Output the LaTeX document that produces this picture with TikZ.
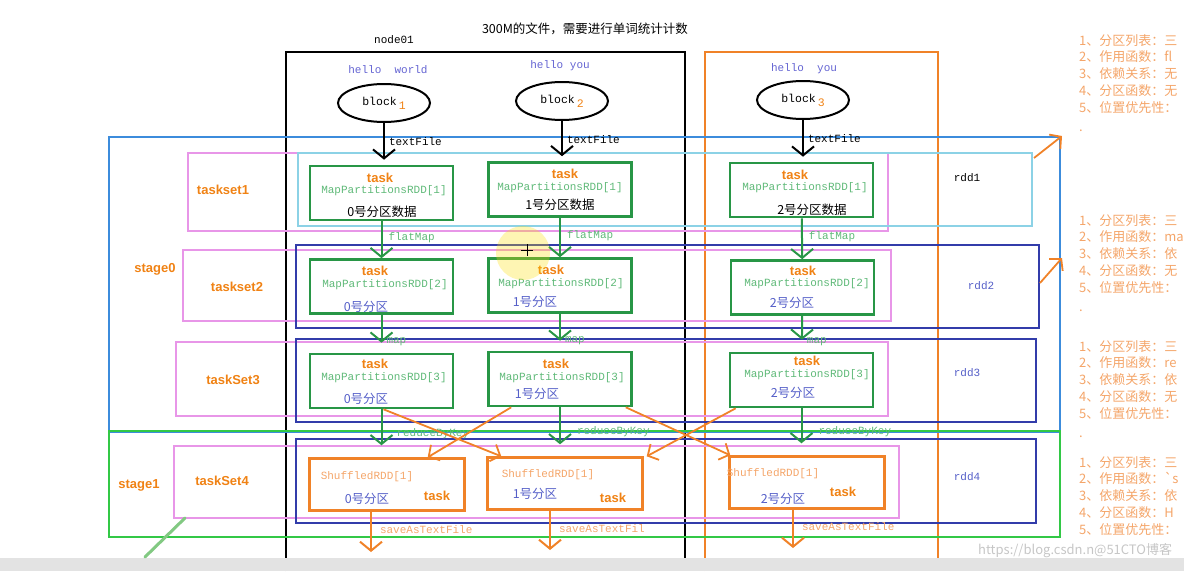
\documentclass[tikz,border=0pt]{standalone}
\usepackage{fontspec}
\usepackage{tikz}
\usetikzlibrary{arrows.meta,shapes.geometric}
\setmainfont{Liberation Serif}
\newfontfamily\cjk{Noto Sans CJK SC}
\newfontfamily\mono{Liberation Mono}
\newfontfamily\sansb{Liberation Sans}

\definecolor{boxgreen}{RGB}{40,150,70}
\definecolor{lightgreen}{RGB}{95,185,120}
\definecolor{taskorange}{RGB}{240,130,20}
\definecolor{paleorange}{RGB}{244,165,105}
\definecolor{partblue}{RGB}{85,95,200}
\definecolor{hellblue}{RGB}{100,100,210}
\definecolor{rddblue}{RGB}{50,60,170}
\definecolor{rddcyan}{RGB}{140,210,230}
\definecolor{setpink}{RGB}{232,150,232}
\definecolor{stageblue}{RGB}{60,140,220}
\definecolor{stagegreen}{RGB}{50,200,70}
\definecolor{orangeline}{RGB}{240,130,40}

\begin{document}
\begin{tikzpicture}[x=1pt,y=-1pt,
  tbox/.style={draw=boxgreen,line width=2.6pt,minimum width=143pt,minimum height=54pt,inner sep=0pt},
  sbox/.style={draw=orangeline,line width=2.4pt,minimum width=155pt,minimum height=52pt,inner sep=0pt},
  blk/.style={draw,ellipse,line width=2pt,minimum width=92pt,minimum height=38pt,inner sep=0pt,font=\mono\fontsize{11.5}{13}\selectfont},
  tsk/.style={text=taskorange,font=\sansb\bfseries\fontsize{13}{15}\selectfont,inner sep=0pt},
  mpr/.style={text=lightgreen,font=\mono\fontsize{11}{13}\selectfont,inner sep=0pt},
  part/.style={text=partblue,font=\cjk\fontsize{12.5}{14}\selectfont,inner sep=0pt},
  lbl/.style={font=\mono\fontsize{11}{13}\selectfont,inner sep=0pt,anchor=west},
  flow/.style={line width=2pt,-{Straight Barb[length=9pt,width=22pt,line width=2pt]}},
  cross/.style={orangeline,line width=1.8pt,-{Straight Barb[length=8pt,width=18pt,line width=1.8pt]}},
  sets/.style={draw=setpink,line width=1.5pt},
  rdd/.style={draw=rddblue,line width=2pt},
  notes/.style={text=paleorange,font=\cjk\fontsize{13}{16.8}\selectfont,align=left,anchor=north west,inner sep=0pt}
]
\useasboundingbox (0,0) rectangle (1184,571);
\clip (0,0) rectangle (1184,571);

% heading
\node[font=\cjk\fontsize{12.5}{14}\selectfont] (head) at (585,29) {300M的文件，需要进行单词统计计数};
\node[font=\mono\fontsize{11}{13}\selectfont] (n01) at (394,40) {node01};

% machines
\draw[line width=2.4pt] (286,571) -- (286,52) -- (685,52) -- (685,571);
\draw[orangeline,line width=2.2pt] (705,571) -- (705,52) -- (938,52) -- (938,571);

% stages
\draw[stageblue,line width=1.8pt] (109,137) rectangle (1060,432);
\draw[stagegreen,line width=2.4pt] (109,431) rectangle (1060,537);
\node[tsk] (st0) at (155,269) {stage0};
\node[tsk] (st1) at (139,485) {stage1};

% tasksets
\draw[sets] (188,153) rectangle (888,231);
\draw[sets] (183,250) rectangle (891,321);
\draw[sets] (176,342) rectangle (888,416);
\draw[sets] (174,446) rectangle (899,518);
\node[tsk] (ts1) at (223,190) {taskset1};
\node[tsk] (ts2) at (237,287) {taskset2};
\node[tsk] (ts3) at (233,380) {taskSet3};
\node[tsk] (ts4) at (222,481) {taskSet4};

% rdds
\draw[rddcyan,line width=2pt] (298,153) rectangle (1032,226);
\draw[rdd] (296,245) rectangle (1039,328);
\draw[rdd] (296,339) rectangle (1036,422);
\draw[rdd] (296,439) rectangle (1036,523);
\node[lbl,anchor=center] (rd1) at (967,178) {rdd1};
\node[lbl,anchor=center,text=partblue] (rd2) at (981,286) {rdd2};
\node[lbl,anchor=center,text=partblue] (rd3) at (967,373) {rdd3};
\node[lbl,anchor=center,text=partblue] (rd4) at (967,477) {rdd4};

% blocks
\node[lbl,anchor=center,text=hellblue] (hw1) at (388,70) {hello\ \ world};
\node[lbl,anchor=center,text=hellblue] (hw2) at (560,66) {hello you};
\node[lbl,anchor=center,text=hellblue] (hw3) at (804,69) {hello\ \ you};
\node[blk] (blk1) at (384,103) {block\,\raisebox{-4pt}{\textcolor{taskorange}{1}}};
\node[blk] (blk2) at (562,101) {block\,\raisebox{-4pt}{\textcolor{taskorange}{2}}};
\node[blk] (blk3) at (803,100) {block\,\raisebox{-4pt}{\textcolor{taskorange}{3}}};

% MapPartitionsRDD[1]
\node[tbox] (t11) at (381.5,193) {};
\node[tsk] at (380,178) {task};
\node[mpr] at (384,191) {MapPartitionsRDD[1]};
\node[part,text=black] at (382,212) {0号分区数据};
\node[tbox] (t12) at (560,189.5) {};
\node[tsk] at (565,174) {task};
\node[mpr] at (560,188) {MapPartitionsRDD[1]};
\node[part,text=black] at (560,205) {1号分区数据};
\node[tbox] (t13) at (801.5,190) {};
\node[tsk] at (795,175) {task};
\node[mpr] at (805,188) {MapPartitionsRDD[1]};
\node[part,text=black] at (812,210) {2号分区数据};

% MapPartitionsRDD[2]
\node[tbox] (t21) at (381.5,286.5) {};
\node[tsk] at (375,271) {task};
\node[mpr] at (385,285) {MapPartitionsRDD[2]};
\node[part] at (366,307) {0号分区};
\node[tbox] (t22) at (560,285.5) {};
\node[tsk] at (551,270) {task};
\node[mpr] at (561,284) {MapPartitionsRDD[2]};
\node[part] at (535,302) {1号分区};
\node[tbox] (t23) at (802.5,287.5) {};
\node[tsk] at (803,271) {task};
\node[mpr] at (807,284) {MapPartitionsRDD[2]};
\node[part] at (792,303) {2号分区};

% MapPartitionsRDD[3]
\node[tbox] (t31) at (381.5,381) {};
\node[tsk] at (375,364) {task};
\node[mpr] at (384,378) {MapPartitionsRDD[3]};
\node[part] at (366,399) {0号分区};
\node[tbox] (t32) at (560,379) {};
\node[tsk] at (556,364) {task};
\node[mpr] at (562,378) {MapPartitionsRDD[3]};
\node[part] at (537,394) {1号分区};
\node[tbox] (t33) at (801.5,380) {};
\node[tsk] at (807,361) {task};
\node[mpr] at (807,375) {MapPartitionsRDD[3]};
\node[part] at (793,393) {2号分区};

% ShuffledRDD
\node[sbox] (s1) at (387,484.5) {};
\node[mpr,text=paleorange] at (367,477) {ShuffledRDD[1]};
\node[part] at (367,499) {0号分区};
\node[tsk] at (437,496) {task};
\node[sbox] (s2) at (565,483.5) {};
\node[mpr,text=paleorange] at (548,475) {ShuffledRDD[1]};
\node[part] at (535,494) {1号分区};
\node[tsk] at (613,498) {task};
\node[sbox] (s3) at (807,482.5) {};
\node[mpr,text=paleorange] at (773,474) {ShuffledRDD[1]};
\node[part] at (783,499) {2号分区};
\node[tsk] at (843,492) {task};

% textFile
\draw[flow,shorten >=5pt] (blk1) -- (blk1 |- t11.north) node[lbl,pos=.45,xshift=4pt] {textFile};
\draw[flow,shorten >=5pt] (blk2) -- (blk2 |- t12.north) node[lbl,pos=.45,xshift=4pt] {textFile};
\draw[flow,shorten >=5pt] (blk3) -- (blk3 |- t13.north) node[lbl,pos=.45,xshift=4pt] {textFile};

% flatMap
\draw[flow,boxgreen] (t11) -- (t21) node[lbl,text=lightgreen,pos=.45,xshift=6pt] {flatMap};
\draw[flow,boxgreen] (t12) -- (t22) node[lbl,text=lightgreen,pos=.45,xshift=6pt] {flatMap};
\draw[flow,boxgreen] (t13) -- (t23) node[lbl,text=lightgreen,pos=.45,xshift=6pt] {flatMap};

% map
\draw[flow,boxgreen,shorten >=10pt] (t21) -- (t31) node[lbl,text=lightgreen,pos=.72,xshift=4pt] {map};
\draw[flow,boxgreen,shorten >=10pt] (t22) -- (t32) node[lbl,text=lightgreen,pos=.72,xshift=4pt] {map};
\draw[flow,boxgreen,shorten >=12pt] (t23) -- (t33) node[lbl,text=lightgreen,pos=.72,xshift=4pt] {map};

% reduceByKey
\draw[flow,boxgreen,shorten >=12pt] (t31) -- (t31 |- s1.north) node[lbl,text=lightgreen,pos=.5,xshift=14pt] {reduceByKey};
\draw[flow,boxgreen,shorten >=12pt] (t32) -- (t32 |- s2.north) node[lbl,text=lightgreen,pos=.5,xshift=16pt] {reduceByKey};
\draw[flow,boxgreen,shorten >=12pt] (t33) -- (t33 |- s3.north) node[lbl,text=lightgreen,pos=.5,xshift=16pt] {reduceByKey};

% shuffle
\draw[cross] ([xshift=2pt]t31.south) -- ([xshift=15pt]s2.north west);
\draw[cross] ([xshift=24pt]t32.south west) -- ([xshift=-38pt]s1.north east);
\draw[cross] ([xshift=-7pt]t32.south east) -- ([xshift=2pt]s3.north west);
\draw[cross] ([xshift=7pt]t33.south west) -- ([xshift=3pt]s2.north east);

% saveAsTextFile
\coordinate (o1) at (371,552);
\coordinate (o2) at (550,550);
\coordinate (o3) at (793,548);
\draw[flow,orangeline] (s1.south -| o1) -- (o1) node[lbl,text=paleorange,pos=.45,xshift=8pt] {saveAsTextFile};
\draw[flow,orangeline] (s2.south -| o2) -- (o2) node[lbl,text=paleorange,pos=.45,xshift=8pt] {saveAsTextFil};
\draw[flow,orangeline] (s3.south -| o3) -- (o3) node[lbl,text=paleorange,pos=.45,xshift=8pt] {saveAsTextFile};

% notes
\coordinate (p1) at (1034,158);
\coordinate (q1) at (1062,136);
\coordinate (p2) at (1040,283);
\coordinate (q2) at (1062,258);
\draw[cross] (p1) -- (q1);
\draw[cross] (p2) -- (q2);
\node[notes] (nt1) at (1079,34) {1、分区列表：三\\2、作用函数：fl\\3、依赖关系：无\\4、分区函数：无\\5、位置优先性：\\[2pt].};
\node[notes] (nt2) at (1079,214) {1、分区列表：三\\2、作用函数：ma\\3、依赖关系：依\\4、分区函数：无\\5、位置优先性：\\[2pt].};
\node[notes] (nt3) at (1079,340) {1、分区列表：三\\2、作用函数：re\\3、依赖关系：依\\4、分区函数：无\\5、位置优先性：\\[2pt].};
\node[notes] (nt4) at (1079,456) {1、分区列表：三\\2、作用函数：`s\\3、依赖关系：依\\4、分区函数：H\\5、位置优先性：};

% screen
\fill[gray!22] (0,558) rectangle (1184,571);
\node[lbl,text=gray!45,font=\cjk\fontsize{13}{14}\selectfont] (wm) at (978,551) {https://blog.csdn.n@51CTO博客};
\draw[green!40!gray!70,line width=3pt,line cap=round] (145,557) -- (185,518);
\fill[yellow!80!orange,opacity=.3] (523,253) circle[radius=27pt];
\draw[line width=.8pt] (521,250) -- (533,250) (527,244) -- (527,256);
\end{tikzpicture}
\end{document}
